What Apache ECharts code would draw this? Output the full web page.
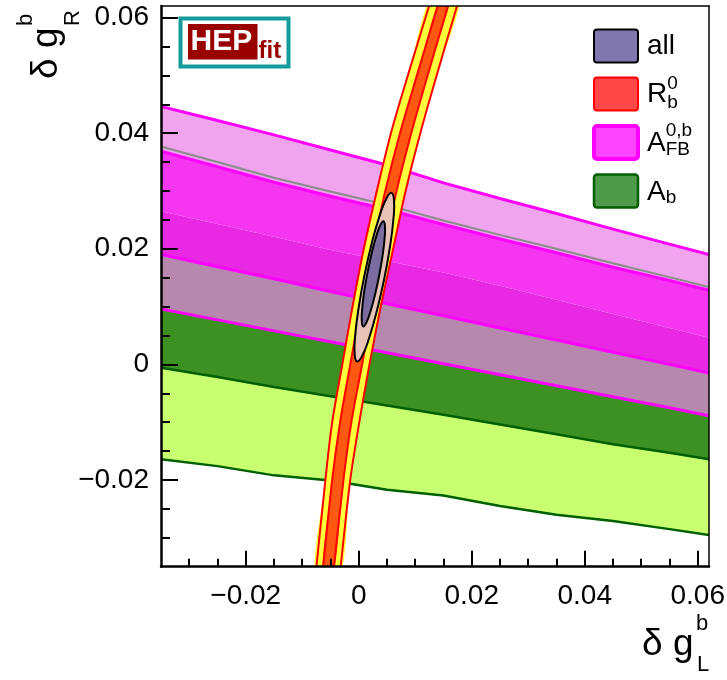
<!DOCTYPE html>
<html><head><meta charset="utf-8">
<script src="https://cdn.jsdelivr.net/npm/echarts@6/dist/echarts.min.js"></script>
<style>html,body{margin:0;padding:0;background:#fff}#c{width:727px;height:680px}</style>
</head><body><div id="c"></div>
<script>
// ---------- axes ----------
const xRange = [-0.035, 0.062];
const yRange = [-0.035, 0.062];
const xMajorTicks = [-0.02, 0, 0.02, 0.04, 0.06];
const xTickLabels = ['\u22120.02', '0', '0.02', '0.04', '0.06'];
const yMajorTicks = [-0.02, 0, 0.02, 0.04, 0.06];
const yTickLabels = ['\u22120.02', '0', '0.02', '0.04', '0.06'];
const xMinorTicks = [-0.03, -0.025, -0.015, -0.01, -0.005, 0.005, 0.01, 0.015, 0.025, 0.03, 0.035, 0.045, 0.05, 0.055];
const yMinorTicks = [-0.03, -0.025, -0.015, -0.01, -0.005, 0.005, 0.01, 0.015, 0.025, 0.03, 0.035, 0.045, 0.05, 0.055];

// ---------- A_FB^{0,b} and A_b contour boundaries (y at bandX) ----------
const bandX         = [-0.035, -0.025, -0.015, -0.005, 0.005, 0.015, 0.025, 0.035, 0.045, 0.055, 0.062];
const afbOuterUpper = [0.0446, 0.0422, 0.0397, 0.0371, 0.0345, 0.0314, 0.0287, 0.0261, 0.0234, 0.0208, 0.0190];
const greyEdge      = [0.0377, 0.0350, 0.0323, 0.0299, 0.0276, 0.0249, 0.0224, 0.0200, 0.0175, 0.0151, 0.0134];
const afbInnerUpper = [0.0369, 0.0342, 0.0315, 0.0291, 0.0268, 0.0242, 0.0217, 0.0193, 0.0168, 0.0145, 0.0128];
const abOuterUpper  = [0.0265, 0.0243, 0.0221, 0.0198, 0.0179, 0.0159, 0.0136, 0.0112, 0.0087, 0.0063, 0.0046];
const afbInnerLower = [0.0190, 0.0169, 0.0148, 0.0126, 0.0105, 0.0084, 0.0063, 0.0042, 0.0021, 0.0000, -0.0015];
const afbOuterLower = [0.0096, 0.0077, 0.0058, 0.0039, 0.0020, 0.0001, -0.0018, -0.0037, -0.0056, -0.0075, -0.0089];
const abInnerLower  = [-0.0006, -0.0022, -0.0039, -0.0055, -0.0071, -0.0087, -0.0104, -0.0121, -0.0138, -0.0153, -0.0164];
const abOuterLower  = [-0.0164, -0.0176, -0.0192, -0.0201, -0.0217, -0.0227, -0.0245, -0.0260, -0.0271, -0.0285, -0.0295];

// ---------- R_b^0 band (x at rbY) ----------
const rbY          = [0.065, 0.05, 0.04, 0.03, 0.02, 0.01, 0, -0.01, -0.02, -0.037];
const rbOuterLeft  = [0.0134, 0.0087, 0.0057, 0.0032, 0.0009, -0.0011, -0.0029, -0.0047, -0.0059, -0.0077];
const rbInnerLeft  = [0.0149, 0.0103, 0.0073, 0.0047, 0.0025, 0.0004, -0.0015, -0.0033, -0.0047, -0.0065];
const rbInnerRight = [0.0167, 0.0122, 0.0093, 0.0067, 0.0045, 0.0024, 0.0006, -0.0013, -0.0027, -0.0046];
const rbOuterRight = [0.0183, 0.0138, 0.0109, 0.0083, 0.0061, 0.0039, 0.0019, 0.0001, -0.0015, -0.0034];

// ---------- combined fit ("all") contours ----------
const allOuterX = [-0.00028, 0.00061, 0.00183, 0.00319, 0.00450, 0.00553, 0.00614, 0.00624, 0.00580, 0.00490, 0.00368, 0.00232, 0.00102, -0.00001, -0.00062, -0.00072];
const allOuterY = [0.00050, 0.00148, 0.00453, 0.00918, 0.01474, 0.02035, 0.02515, 0.02843, 0.02967, 0.02870, 0.02564, 0.02101, 0.01543, 0.00982, 0.00502, 0.00175];
const allInnerX = [0.00080, 0.00134, 0.00206, 0.00287, 0.00363, 0.00424, 0.00459, 0.00464, 0.00438, 0.00384, 0.00312, 0.00232, 0.00156, 0.00095, 0.00060, 0.00055];
const allInnerY = [0.00657, 0.00719, 0.00910, 0.01200, 0.01547, 0.01896, 0.02195, 0.02399, 0.02475, 0.02414, 0.02222, 0.01932, 0.01591, 0.01245, 0.00946, 0.00733];

// ---------- helpers ----------
const FONT = 'Liberation Sans, Arial, Helvetica, sans-serif';
function hBand(up, lo) {
  const a = bandX.map((x, i) => [x, up[i]]);
  const b = bandX.map((x, i) => [x, lo[i]]).reverse();
  return a.concat(b);
}
function hLine(ys) { return bandX.map((x, i) => [x, ys[i]]); }
function vBand(l, r) {
  const a = rbY.map((y, i) => [l[i], y]);
  const b = rbY.map((y, i) => [r[i], y]).reverse();
  return a.concat(b);
}
function vLine(xs) { return rbY.map((y, i) => [xs[i], y]); }
function closed(xs, ys) { return xs.map((x, i) => [x, ys[i]]); }

function shapeSeries(kind, pts, style, z, smooth) {
  return {
    type: 'custom', z: z, silent: true, animation: false,
    coordinateSystem: 'cartesian2d', xAxisIndex: 0, yAxisIndex: 0,
    data: pts, encode: { x: 0, y: 1 },
    renderItem: function (params, api) {
      if (params.dataIndex !== 0) return;
      const cs = params.coordSys;
      return {
        type: kind,
        shape: { points: pts.map(p => api.coord(p)), smooth: smooth || 0 },
        style: style,
        clipPath: { type: 'rect', shape: { x: cs.x, y: cs.y, width: cs.width, height: cs.height } }
      };
    }
  };
}

const MAG = '#ff00ff', DG = '#006000', RED = '#ff0000';
const series = [
  shapeSeries('polygon', hBand(afbOuterUpper, greyEdge), { fill: '#f0a4ee' }, 1),
  shapeSeries('polygon', hBand(greyEdge, afbInnerUpper), { fill: '#e8a0e8' }, 1),
  shapeSeries('polygon', hBand(afbInnerUpper, abOuterUpper), { fill: '#f535ef' }, 1),
  shapeSeries('polygon', hBand(abOuterUpper, afbInnerLower), { fill: '#e828e2' }, 1),
  shapeSeries('polygon', hBand(afbInnerLower, afbOuterLower), { fill: '#b788ae' }, 1),
  shapeSeries('polygon', hBand(afbOuterLower, abInnerLower), { fill: '#3c9122' }, 1),
  shapeSeries('polygon', hBand(abInnerLower, abOuterLower), { fill: '#c8ff70' }, 1),
  shapeSeries('polyline', hLine(afbOuterUpper), { fill: null, stroke: MAG, lineWidth: 3 }, 2),
  shapeSeries('polyline', hLine(greyEdge), { fill: null, stroke: '#8c8c8c', lineWidth: 2 }, 2),
  shapeSeries('polyline', hLine(afbInnerUpper), { fill: null, stroke: MAG, lineWidth: 3 }, 2),
  shapeSeries('polyline', hLine(afbInnerLower), { fill: null, stroke: MAG, lineWidth: 3 }, 2),
  shapeSeries('polyline', hLine(afbOuterLower), { fill: null, stroke: MAG, lineWidth: 3 }, 2),
  shapeSeries('polyline', hLine(abInnerLower), { fill: null, stroke: DG, lineWidth: 2.5 }, 2),
  shapeSeries('polyline', hLine(abOuterLower), { fill: null, stroke: DG, lineWidth: 2.5 }, 2),
  // R_b^0
  shapeSeries('polygon', vBand(rbOuterLeft, rbOuterRight), { fill: '#ffff3c' }, 3, 0.3),
  shapeSeries('polygon', vBand(rbInnerLeft, rbInnerRight), { fill: 'rgba(255,74,16,0.92)' }, 3, 0.3),
  shapeSeries('polyline', vLine(rbOuterLeft), { fill: null, stroke: RED, lineWidth: 2 }, 4, 0.3),
  shapeSeries('polyline', vLine(rbInnerLeft), { fill: null, stroke: RED, lineWidth: 2 }, 4, 0.3),
  shapeSeries('polyline', vLine(rbInnerRight), { fill: null, stroke: RED, lineWidth: 2 }, 4, 0.3),
  shapeSeries('polyline', vLine(rbOuterRight), { fill: null, stroke: RED, lineWidth: 2 }, 4, 0.3),
  // all
  shapeSeries('polygon', closed(allOuterX, allOuterY), { fill: '#e8c4b8', stroke: '#000', lineWidth: 2 }, 5, 0.5),
  shapeSeries('polygon', closed(allInnerX, allInnerY), { fill: '#7a6c9e', stroke: '#000', lineWidth: 2 }, 6, 0.5)
];

function lbl(list, labels) { return v => { const i = list.findIndex(t => Math.abs(t - v) < 1e-9); return i >= 0 ? labels[i] : ''; }; }
const noLine = { show: false, onZero: false };
function ax(range, pos, extra) {
  return Object.assign({ type: 'value', min: range[0], max: range[1], position: pos, splitLine: { show: false }, z: 10,
    axisLine: noLine, axisTick: { show: false }, axisLabel: { show: false } }, extra);
}
const tickStyle = { color: '#000', width: 2 };

const option = {
  animation: false,
  backgroundColor: '#fff',
  grid: { left: 161, top: 6, right: 18, bottom: 113.3, containLabel: false, outerBoundsMode: 'none' },
  xAxis: [
    ax(xRange, 'bottom', {
      axisLine: { show: true, onZero: false, lineStyle: { color: '#000', width: 2.5 } },
      axisLabel: { show: true, customValues: xMajorTicks, formatter: lbl(xMajorTicks, xTickLabels), margin: 16, color: '#000', fontSize: 28, fontFamily: FONT }
    }),
    ax(xRange, 'bottom', { axisTick: { show: true, inside: true, length: 16, customValues: xMajorTicks, lineStyle: tickStyle } }),
    ax(xRange, 'bottom', { axisTick: { show: true, inside: true, length: 8, customValues: xMinorTicks, lineStyle: tickStyle } }),
    ax(xRange, 'top', { axisLine: { show: true, onZero: false, lineStyle: { color: '#000', width: 1.5 } } })
  ],
  yAxis: [
    ax(yRange, 'left', {
      axisLine: { show: true, onZero: false, lineStyle: { color: '#000', width: 2.5 } },
      axisLabel: { show: true, customValues: yMajorTicks, formatter: lbl(yMajorTicks, yTickLabels), margin: 12, color: '#000', fontSize: 28, fontFamily: FONT }
    }),
    ax(yRange, 'left', { axisTick: { show: true, inside: true, length: 17, customValues: yMajorTicks, lineStyle: tickStyle } }),
    ax(yRange, 'left', { axisTick: { show: true, inside: true, length: 9, customValues: yMinorTicks, lineStyle: tickStyle } }),
    ax(yRange, 'right', { axisLine: { show: true, onZero: false, lineStyle: { color: '#000', width: 1.5 } } })
  ],
  series: series
};

// ---------- legend, titles, logo (graphic) ----------
const mc = document.createElement('canvas').getContext('2d');
function tw(text, size, weight) { mc.font = (weight || 'normal') + ' ' + size + 'px ' + FONT; return mc.measureText(text).width; }
function txt(text, x, y, size, opts) {
  opts = opts || {};
  return {
    type: 'text', x: x, y: y, rotation: opts.rot || 0, z: 102,
    style: { text: text, fontSize: size, fontFamily: FONT, fontWeight: opts.weight || 'normal', fill: opts.fill || '#000',
      align: opts.align || 'left', textAlign: opts.align || 'left', verticalAlign: 'middle', textVerticalAlign: 'middle' }
  };
}
function swatch(y, fill, stroke, lw) {
  return { type: 'rect', z: 100, shape: { x: 594, y: y, width: 44, height: 33, r: 3 }, style: { fill: fill, stroke: stroke, lineWidth: lw } };
}
const LF = 28, SF = 19;
const legendNames = ['all', 'R', 'A', 'A'];
const wR = tw('R', LF), wA = tw('A', LF);
const g = [
  swatch(29.5, '#7f77ae', '#000', 2),
  swatch(77.5, '#ff4848', '#ff0000', 2),
  swatch(126, '#ff44ff', '#ff00ff', 4),
  swatch(174.5, '#4e9a4a', '#006000', 2.5),
  txt(legendNames[0], 647, 46, LF),
  txt(legendNames[1], 647, 94, LF), txt('b', 647 + wR, 103, SF), txt('0', 647 + wR, 84, SF),
  txt(legendNames[2], 647, 143, LF), txt('FB', 647 + wA, 150, SF), txt('0,b', 647 + wA, 131, SF),
  txt(legendNames[3], 647, 192, LF), txt('b', 647 + wA, 198, SF),
  // x title
  txt('\u03b4 g', 642, 645, 37), txt('b', 696, 624, 22), txt('L', 697, 665, 22),
  // y title (rotated)
  txt('\u03b4 g', 47, 79, 37, { rot: Math.PI / 2 }), txt('b', 26, 26, 22, { rot: Math.PI / 2 }), txt('R', 73, 26, 22, { rot: Math.PI / 2 }),
  // HEPfit logo
  { type: 'rect', z: 100, shape: { x: 180.5, y: 18.5, width: 108, height: 48 }, style: { fill: '#fff', stroke: '#139a9a', lineWidth: 4 } },
  { type: 'rect', z: 101, shape: { x: 188, y: 24, width: 69.5, height: 35.5 }, style: { fill: '#990000' } },
  txt('HEP', 190.5, 42, 30, { weight: 'bold', fill: '#fff' }),
  txt('fit', 258.5, 51, 24, { weight: 'bold', fill: '#990000' })
];
option.graphic = { elements: g };

const chart = echarts.init(document.getElementById('c'), null, { renderer: 'canvas', width: 727, height: 680 });
chart.setOption(option);
</script>
</body></html>
